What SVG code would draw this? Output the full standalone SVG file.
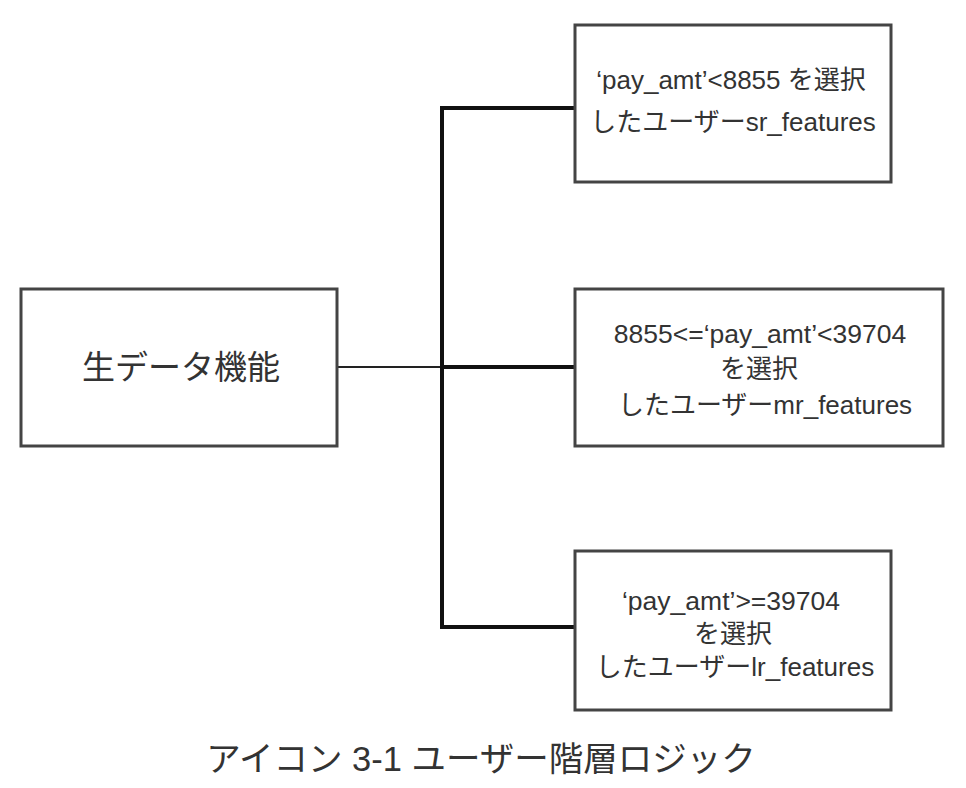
<svg xmlns="http://www.w3.org/2000/svg" width="966" height="788" viewBox="0 0 966 788">
<style>
.box{fill:#fff;stroke:#444;stroke-width:3}
.t{font-family:"Liberation Sans","Noto Sans CJK JP",sans-serif;fill:#333;text-anchor:middle}
.s{font-size:26px}
.thick{fill:none;stroke:#111;stroke-width:4}
.thin{fill:none;stroke:#222;stroke-width:2}
</style>
<rect width="966" height="788" fill="#fff"/>
<g id="connectors">
<path class="thin" d="M337,367 H442"/>
<path class="thick" d="M575,108 H442 V627 H575"/>
<path class="thick" d="M442,367 H575"/>
</g>
<g id="raw">
<rect class="box" x="21" y="289" width="316" height="157"/>
<text class="t" x="181" y="379" font-size="33">生データ機能</text>
</g>
<g id="sr">
<rect class="box" x="575" y="25" width="316" height="157"/>
<text class="t s" x="731" y="89">‘pay_amt’&lt;8855 を選択</text>
<text class="t s" x="733" y="131">したユーザーsr_features</text>
</g>
<g id="mr">
<rect class="box" x="575" y="289" width="368" height="157"/>
<text class="t" x="760" y="343" font-size="26.5">8855&lt;=‘pay_amt’&lt;39704</text>
<text class="t s" x="759" y="378">を選択</text>
<text class="t s" x="765" y="414">したユーザーmr_features</text>
</g>
<g id="lr">
<rect class="box" x="575" y="551" width="316" height="159"/>
<text class="t" x="731" y="610" font-size="26.5">‘pay_amt’&gt;=39704</text>
<text class="t s" x="733" y="643">を選択</text>
<text class="t s" x="735" y="676">したユーザーlr_features</text>
</g>
<text class="t" x="481" y="771" font-size="34.5">アイコン 3-1 ユーザー階層ロジック</text>
</svg>
